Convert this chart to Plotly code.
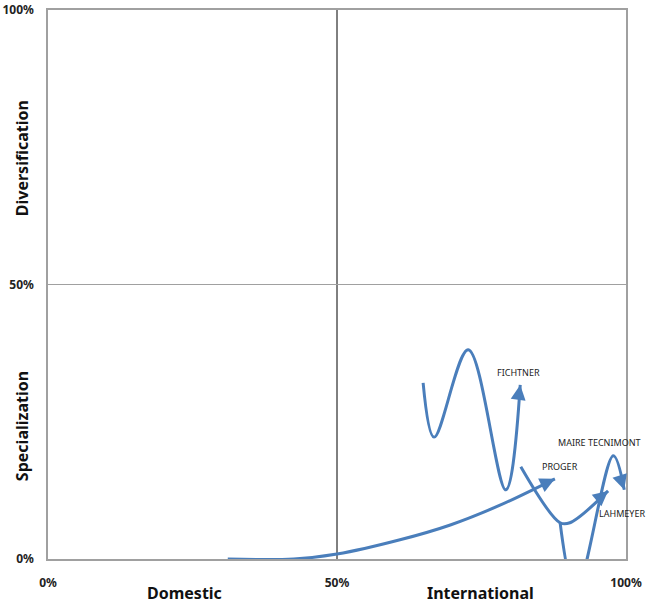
import math
import plotly.graph_objects as go

# ---- data (percent of axis) ----
series_names = ["FICHTNER", "PROGER", "LAHMEYER", "MAIRE TECNIMONT"]

fichtner_x = [64.9, 66.8, 72.7, 79.2, 81.7]
fichtner_y = [32.1, 22.2, 38.1, 12.6, 31.7]

proger_x = [31.1, 42.5, 50.0, 60.9, 69.6, 78.2, 87.7]
proger_y = [0.0, 0.0, 0.9, 3.5, 6.2, 9.8, 14.6]

lahmeyer_x = [81.8, 88.6, 90.3, 96.9]
lahmeyer_y = [16.8, 6.6, 6.6, 12.4]

maire_x = [88.6, 91.3, 97.8, 99.7]
maire_y = [6.6, -6.0, 18.8, 12.6]

tick_vals = [0, 50, 100]
tick_text = ["0%", "50%", "100%"]

# label anchor points (text placement)
label_pos = {
    "FICHTNER": (81.4, 34.0),
    "PROGER": (88.6, 16.8),
    "MAIRE TECNIMONT": (95.5, 21.3),
    "LAHMEYER": (99.3, 8.3),
}

LINE_COLOR = "#4A7EBB"
FONT = "Noto Sans"

# plot geometry
W, H = 648, 604
ML, MR, MT, MB = 48, 22, 10, 45
PW, PH = W - ML - MR, H - MT - MB
SX, SY = PW / 100.0, PH / 100.0   # px per data unit

series = {
    "FICHTNER": (fichtner_x, fichtner_y),
    "PROGER": (proger_x, proger_y),
    "LAHMEYER": (lahmeyer_x, lahmeyer_y),
    "MAIRE TECNIMONT": (maire_x, maire_y),
}

fig = go.Figure()

for name in series_names:
    xs, ys = series[name]
    fig.add_trace(go.Scatter(
        x=xs, y=ys, mode="lines", name=name,
        line=dict(color=LINE_COLOR, width=3, shape="spline", smoothing=1.0),
        showlegend=False, hoverinfo="skip",
    ))
    # arrowhead at end of series, direction from previous point
    tx, ty = xs[-1], ys[-1]
    dx_px = (tx - xs[-2]) * SX
    dy_px = (ty - ys[-2]) * SY
    n = math.hypot(dx_px, dy_px)
    L = 14.0
    fig.add_annotation(
        x=tx, y=ty,
        ax=tx - L * dx_px / n / SX, ay=ty - L * dy_px / n / SY,
        xref="x", yref="y", axref="x", ayref="y",
        showarrow=True, arrowhead=2, arrowsize=1.0, arrowwidth=3,
        arrowcolor=LINE_COLOR, standoff=0, text="",
    )
    lx, ly = label_pos[name]
    fig.add_annotation(
        x=lx, y=ly, xref="x", yref="y", text=name, showarrow=False,
        font=dict(family=FONT, size=9, color="#222222"),
    )

# vertical 50% line
fig.add_shape(type="line", x0=50, x1=50, y0=0, y1=100, xref="x", yref="y",
              line=dict(color="black", width=1), layer="below")

# axis titles as annotations
title_font = dict(family=FONT, size=16, color="#111111")
fig.add_annotation(text="<b>Domestic</b>", x=0.237, y=-0.062, xref="paper", yref="paper",
                   showarrow=False, font=title_font, xanchor="center", yanchor="middle")
fig.add_annotation(text="<b>International</b>", x=0.748, y=-0.062, xref="paper", yref="paper",
                   showarrow=False, font=title_font, xanchor="center", yanchor="middle")
fig.add_annotation(text="<b>Diversification</b>", x=-0.045, y=0.73, xref="paper", yref="paper",
                   showarrow=False, font=title_font, textangle=-90,
                   xanchor="center", yanchor="middle")
fig.add_annotation(text="<b>Specialization</b>", x=-0.045, y=0.242, xref="paper", yref="paper",
                   showarrow=False, font=title_font, textangle=-90,
                   xanchor="center", yanchor="middle")

fig.update_xaxes(
    range=[0, 100], tickvals=tick_vals, ticktext=["<b>%s</b>" % t for t in tick_text],
    showgrid=False, zeroline=False, showline=True, linecolor="#A0A0A0", linewidth=1.5,
    mirror=True, ticks="", ticklabelstandoff=12, automargin=False,
    tickfont=dict(family=FONT, size=12, color="#222222"),
)
fig.update_yaxes(
    range=[0, 100], tickvals=tick_vals, ticktext=["<b>%s</b>" % t for t in tick_text],
    showgrid=True, gridcolor="#A0A0A0", gridwidth=1, zeroline=False,
    showline=True, linecolor="#A0A0A0", linewidth=1.5, mirror=True, ticks="",
    ticklabelstandoff=10, automargin=False,
    tickfont=dict(family=FONT, size=12, color="#222222"),
)

fig.update_layout(
    width=W, height=H,
    margin=dict(l=ML, r=MR, t=MT, b=MB, autoexpand=False),
    plot_bgcolor="white", paper_bgcolor="white",
)

fig.write_html(
    "out.html",
    config={"displayModeBar": False},
    post_script="document.body.style.margin='0px';document.body.style.overflow='hidden';",
)
